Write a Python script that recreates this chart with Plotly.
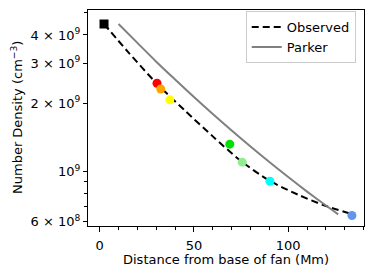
import plotly.graph_objects as go

# Observed fit curve (distance in Mm, density in cm^-3)
obs_x = [2.3, 15, 30, 45, 60, 75, 90, 105, 120, 133.8]
obs_y = [4.47e9, 3.37e9, 2.455e9, 1.863e9, 1.429e9, 1.112e9, 9.12e8, 7.92e8, 7.05e8, 6.5e8]

# Parker solution curve
parker_x = [10, 20, 30, 40, 50, 60, 70, 80, 90, 100, 110, 120, 126.5]
parker_y = [4.47e9, 3.69e9, 3.05e9, 2.545e9, 2.13e9, 1.793e9, 1.516e9, 1.289e9,
            1.101e9, 9.456e8, 8.16e8, 7.08e8, 6.475e8]

# Measured points
base_x = [2.3]
base_y = [4.47e9]
pts_x = [30.4, 32.4, 37.2, 69.0, 75.6, 90.3, 133.8]
pts_y = [2.45e9, 2.31e9, 2.07e9, 1.32e9, 1.10e9, 9.06e8, 6.4e8]
pts_colors = ["#ff0000", "#ffa500", "#ffff00", "#00e000", "#90ee90", "#00ffff", "#6495ed"]

# Tick labels
ytick_vals = [6e8, 1e9, 2e9, 3e9, 4e9]
ytick_text = ["6 × 10<sup>8</sup>", "10<sup>9</sup>", "2 × 10<sup>9</sup>",
              "3 × 10<sup>9</sup>", "4 × 10<sup>9</sup>"]
yminor_vals = [7e8, 8e8, 9e8, 5e9]
xtick_vals = [0, 50, 100]
xminor_vals = [10, 20, 30, 40, 60, 70, 80, 90, 110, 120, 130, 140]

x_title = "Distance from base of fan (Mm)"
y_title = "Number Density (cm<sup>−3</sup>)"

FONT = "DejaVu Sans"

fig = go.Figure()
fig.add_trace(go.Scatter(x=obs_x, y=obs_y, mode="lines", name="Observed",
                         line=dict(color="black", width=2, dash="7px,4px", shape="spline", smoothing=0.8)))
fig.add_trace(go.Scatter(x=parker_x, y=parker_y, mode="lines", name="Parker",
                         line=dict(color="#808080", width=2, shape="spline", smoothing=0.8)))
fig.add_trace(go.Scatter(x=base_x, y=base_y, mode="markers", showlegend=False,
                         marker=dict(symbol="square", size=9, color="black")))
fig.add_trace(go.Scatter(x=pts_x, y=pts_y, mode="markers", showlegend=False,
                         marker=dict(symbol="circle", size=9, color=pts_colors, line=dict(width=0))))

# The page body adds an 8px offset, so the figure is sized to compensate.
fig.update_layout(
    width=366, height=268,
    margin=dict(l=80, r=10, t=2, b=50),
    paper_bgcolor="white", plot_bgcolor="white",
    font=dict(family=FONT, size=13, color="black"),
    legend=dict(x=0.97, y=0.995, xanchor="right", yanchor="top",
                bgcolor="white", bordercolor="#cccccc", borderwidth=1,
                font=dict(family=FONT, size=13), itemwidth=30),
    showlegend=True,
    annotations=[
        dict(text=x_title, xref="paper", yref="paper", x=0.5, y=0, xanchor="center",
             yanchor="middle", yshift=-33, showarrow=False, font=dict(family=FONT, size=13)),
        dict(text=y_title, xref="paper", yref="paper", x=0, y=0.5, xanchor="center",
             yanchor="middle", xshift=-71, textangle=-90, showarrow=False,
             font=dict(family=FONT, size=13)),
    ],
)
fig.update_xaxes(
    range=[-6.2, 140.2], tickvals=xtick_vals, ticks="outside", ticklen=5, tickwidth=1,
    tickcolor="black", showline=True, linecolor="black", linewidth=1, mirror=True,
    showgrid=False, zeroline=False, automargin=False, ticklabelstandoff=2,
    minor=dict(tickvals=xminor_vals, ticks="outside", ticklen=3, tickcolor="black", tickwidth=1),
    tickfont=dict(size=13),
)
fig.update_yaxes(
    type="log", range=[8.760, 9.712], tickvals=ytick_vals, ticktext=ytick_text,
    ticks="outside", ticklen=4, tickwidth=1, tickcolor="black",
    showline=True, linecolor="black", linewidth=1, mirror=True,
    showgrid=False, zeroline=False, automargin=False,
    minor=dict(tickvals=yminor_vals, ticks="outside", ticklen=3, tickcolor="black", tickwidth=1),
    tickfont=dict(size=13),
)

fig.write_html("out.html")
